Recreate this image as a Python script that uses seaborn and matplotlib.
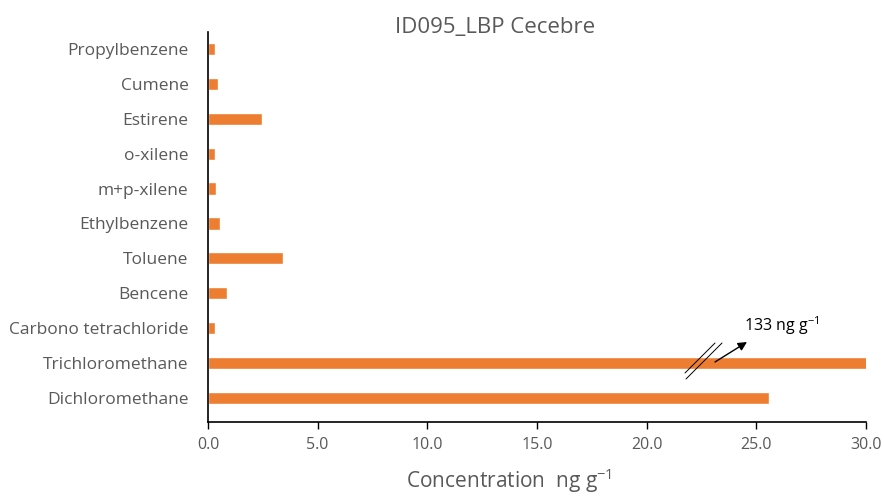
import matplotlib
matplotlib.use("Agg")
import matplotlib.pyplot as plt
import seaborn as sns
import pandas as pd

compounds = ["Propylbenzene", "Cumene", "Estirene", "o-xilene", "m+p-xilene",
             "Ethylbenzene", "Toluene", "Bencene", "Carbono tetrachloride",
             "Trichloromethane", "Dichloromethane"]
values = [0.3, 0.47, 2.45, 0.34, 0.38, 0.53, 3.4, 0.85, 0.3, 133, 25.6]
xticks = [0, 5, 10, 15, 20, 25, 30]
xticklabels = ["0.0", "5.0", "10.0", "15.0", "20.0", "25.0", "30.0"]

df = pd.DataFrame({"compound": compounds, "value": values})

sns.set_theme(style="white")
plt.rcParams['font.family'] = ['Open Sans', 'DejaVu Sans']
plt.rcParams['mathtext.default'] = 'regular'
gray = "#595959"

fig = plt.figure(figsize=(8.84, 4.96), dpi=100)
ax = fig.add_axes([208/884, 1-422/496, (866-208)/884, (422-31.5)/496])

sns.barplot(data=df, x="value", y="compound", orient="h", color="#ED7D31",
            saturation=1, width=0.35, ax=ax)

ax.set_xlim(0, 30)
ax.set_ylim(10.69, -0.5)
ax.set_xticks(xticks)
ax.set_xticklabels(xticklabels)
ax.set_xlabel("")
ax.set_ylabel("")
for s in ["top", "right"]:
    ax.spines[s].set_visible(False)
for s in ["left", "bottom"]:
    ax.spines[s].set_color("black")
    ax.spines[s].set_linewidth(1.2)
ax.tick_params(axis="x", direction="out", length=5, width=1, color="black",
               labelsize=11.5, labelcolor=gray, pad=6, bottom=True)
ax.tick_params(axis="y", length=0, labelsize=12.5, labelcolor=gray, pad=14)

fig.text(495/884, 1-28/496, "ID095_LBP Cecebre", ha="center", va="center",
         fontsize=16, color=gray)
fig.text(509/884, 1-481/496, "Concentration  ng g$^{-1}$", ha="center", va="center",
         fontsize=15, color=gray)

# break marks on truncated bar
def fig_line(x0, y0, x1, y1, **kw):
    ax.annotate("", xy=(x1/884, 1-y1/496), xytext=(x0/884, 1-y0/496),
                xycoords="figure fraction", textcoords="figure fraction",
                arrowprops=kw)

fig_line(685, 373, 715, 343, arrowstyle="-", color="black", lw=0.7, shrinkA=0, shrinkB=0)
fig_line(686, 379, 722, 343, arrowstyle="-", color="black", lw=0.7, shrinkA=0, shrinkB=0)
fig_line(715, 362, 747, 342, arrowstyle="-|>", color="black", lw=1, mutation_scale=13,
         shrinkA=0, shrinkB=0)
fig.text(744/884, 1-326/496, "133 ng g$^{-1}$", ha="left", va="center",
         fontsize=11.5, color="black")

fig.savefig("out.png", dpi=100)
